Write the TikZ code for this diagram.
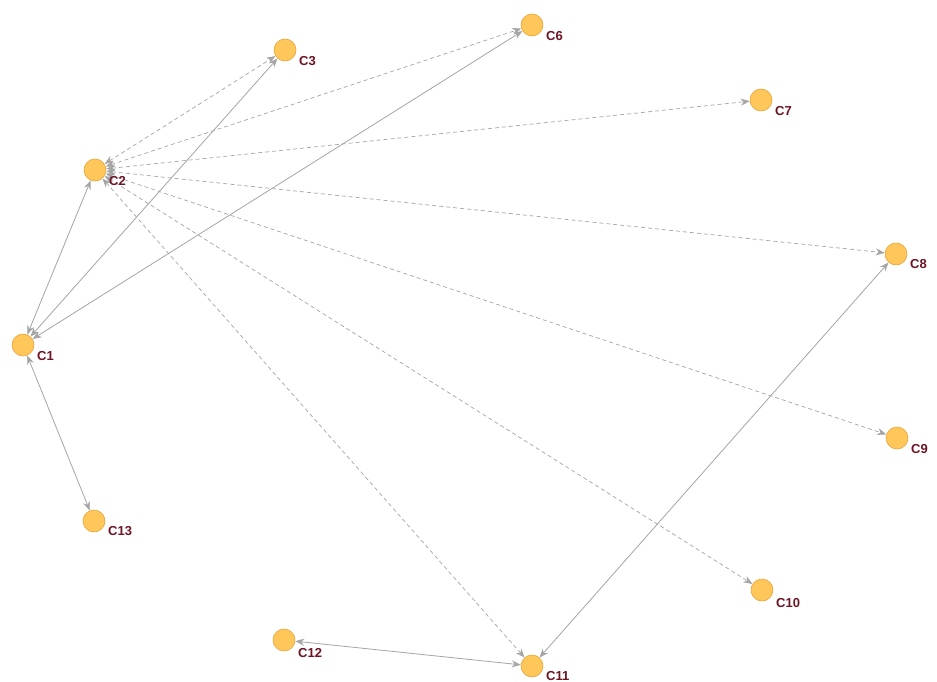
\documentclass[tikz,border=0pt]{standalone}
\usepackage{fontspec}
\setmainfont{Liberation Sans}
\usetikzlibrary{arrows.meta}
\definecolor{nodefill}{RGB}{255,198,90}
\definecolor{nodeline}{RGB}{230,165,60}
\definecolor{edgecol}{RGB}{165,165,165}
\definecolor{labcol}{RGB}{110,20,35}
\tikzset{
  vert/.style={circle,fill=nodefill,draw=nodeline,line width=0.6pt,minimum size=22pt,inner sep=0pt},
  vlab/.style={text=labcol,font=\fontsize{13}{15}\selectfont\bfseries,inner sep=0pt,anchor=west},
  solidedge/.style={draw=edgecol,line width=0.8pt,{Stealth[length=9pt,width=7pt]}-{Stealth[length=9pt,width=7pt]}},
  dashedge/.style={draw=edgecol,line width=0.7pt,dash pattern=on 4pt off 3pt,{Stealth[length=9pt,width=7pt]}-{Stealth[length=9pt,width=7pt]}}
}
\begin{document}
\begin{tikzpicture}[x=1pt,y=-1pt]
\useasboundingbox (0,0) rectangle (937,682);
\fill[white] (0,0) rectangle (937,682);
% nodes
\node[vert] (c1) at (23,345) {};
\node[vert] (c2) at (95,170) {};
\node[vert] (c3) at (285,50) {};
\node[vert] (c6) at (532,25) {};
\node[vert] (c7) at (761,100) {};
\node[vert] (c8) at (896,254) {};
\node[vert] (c9) at (897,438) {};
\node[vert] (c10) at (762,590) {};
\node[vert] (c11) at (532,666) {};
\node[vert] (c12) at (284,640) {};
\node[vert] (c13) at (94,521) {};
% edges
\draw[solidedge] (c1) -- (c2);
\draw[solidedge] (c1) -- (c3);
\draw[solidedge] (c1) -- (c6);
\draw[solidedge] (c1) -- (c13);
\draw[solidedge] (c12) -- (c11);
\draw[solidedge] (c11) -- (c8);
\draw[dashedge] (c2) -- (c3);
\draw[dashedge] (c2) -- (c6);
\draw[dashedge] (c2) -- (c7);
\draw[dashedge] (c2) -- (c8);
\draw[dashedge] (c2) -- (c9);
\draw[dashedge] (c2) -- (c10);
\draw[dashedge] (c2) -- (c11);
% labels
\node[vlab] (l1) at (37,356) {C1};
\node[vlab] (l2) at (109,181) {C2};
\node[vlab] (l3) at (299,61) {C3};
\node[vlab] (l6) at (546,36) {C6};
\node[vlab] (l7) at (775,111) {C7};
\node[vlab] (l8) at (910,264) {C8};
\node[vlab] (l9) at (911,449) {C9};
\node[vlab] (l10) at (776,603) {C10};
\node[vlab] (l11) at (546,676) {C11};
\node[vlab] (l12) at (298,653) {C12};
\node[vlab] (l13) at (108,531) {C13};
\end{tikzpicture}
\end{document}
